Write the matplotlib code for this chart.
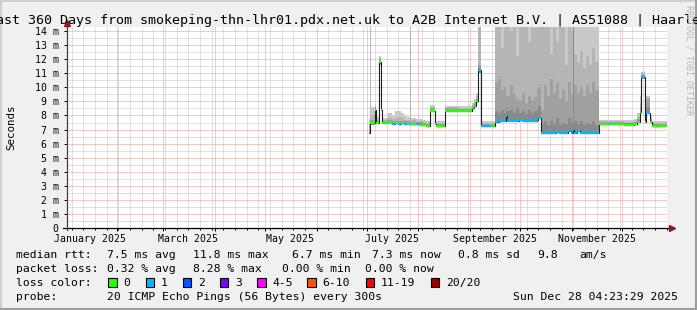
import numpy as np
import matplotlib
matplotlib.use("Agg")
import matplotlib.pyplot as plt
import matplotlib.dates as mdates
import matplotlib.transforms as mtransforms
from matplotlib.patches import Rectangle
from matplotlib.lines import Line2D
from datetime import datetime, timedelta

W, H = 697, 310
plt.rcParams['font.family'] = ['DejaVu Sans Mono', 'DejaVu Sans']

# ---------------- data ----------------
graph_start = datetime(2025, 1, 2, 4, 23, 29)
graph_end = datetime(2025, 12, 28, 4, 23, 29)
data_end_day = 360.0

# day offsets (from graph_start) at which each RRD sample begins
sample_day = [181.2, 181.8, 182.4, 184.5, 185.4, 187.3, 188.2, 189.0, 192.0, 195.0,
              196.8, 198.6, 200.4, 202.2, 204.0, 205.8, 206.4, 209.4, 211.2, 213.6,
              215.4, 217.8, 220.8, 221.4, 226.8, 235.0, 243.0, 244.2, 245.4, 246.8,
              248.1, 252.0, 254.4,
              256.8, 258.6, 260.4, 262.2, 263.4, 264.0, 265.8, 267.6, 269.4, 271.2,
              273.0, 274.8, 276.6, 278.4, 280.2, 282.0, 282.6, 284.4, 286.2, 288.0,
              289.8, 291.6, 293.4, 295.2, 297.0, 298.8, 300.6, 302.4, 303.6, 304.2,
              306.0, 307.8, 309.6, 311.4, 313.2, 315.0, 316.8,
              319.2, 325.8, 326.6, 334.0, 340.0, 342.0, 343.8, 344.6, 346.8, 347.6,
              349.8, 351.0, 354.0, 354.6]

median_ms = [6.77, 7.45, 7.45, 8.40, 7.48, 11.80, 8.40, 7.48, 7.48, 7.42,
             7.45, 7.40, 7.45, 7.42, 7.42, 7.40, 7.38, 7.38, 7.35, 7.30,
             7.25, 8.34, 7.40, 7.25, 8.34, 8.30, 8.50, 8.70, 9.00, 11.20,
             7.25, 7.27, 7.27,
             7.56, 7.58, 7.60, 7.60, 7.95, 7.65, 7.62, 7.62, 7.62, 7.66,
             7.65, 7.63, 7.63, 7.63, 7.63, 7.68, 7.85, 6.75, 6.73, 6.73,
             6.75, 6.73, 6.85, 6.73, 6.73, 6.73, 6.90, 6.75, 6.95, 6.78,
             6.90, 6.75, 6.73, 6.73, 6.73, 6.73, 6.73,
             7.37, 7.37, 7.37, 7.35, 7.38, 7.55, 8.27, 10.75, 7.55, 8.20,
             7.55, 7.27, 7.27, 7.27]

loss_pings = [1, 0, 0, 0, 0, 0, 0, 0, 0, 1,
              0, 1, 0, 1, 0, 1, 0, 1, 0, 0,
              0, 0, 0, 0, 0, 0, 0, 0, 0, 1,
              1, 1, 0,
              1, 1, 1, 1, 1, 1, 1, 1, 1, 1,
              1, 1, 1, 1, 1, 1, 1, 1, 1, 1,
              1, 1, 1, 1, 1, 1, 1, 1, 1, 1,
              1, 1, 1, 1, 1, 1, 1,
              0, 1, 0, 0, 0, 0, 0, 1, 0, 1,
              0, 0, 1, 0]

# smoke: min ping and successive ping quantile envelopes (inner -> outer)
smoke_min = [6.70, 7.35, 7.35, 8.25, 7.40, 11.60, 8.30, 7.40, 7.40, 7.34,
             7.37, 7.32, 7.37, 7.34, 7.34, 7.32, 7.30, 7.30, 7.27, 7.22,
             7.17, 8.26, 7.32, 7.17, 8.26, 8.22, 8.42, 8.60, 8.90, 11.00,
             7.17, 7.19, 7.19,
             7.48, 7.50, 7.52, 7.52, 7.87, 7.57, 7.54, 7.54, 7.54, 7.58,
             7.57, 7.55, 7.55, 7.55, 7.55, 7.60, 7.77, 6.67, 6.65, 6.65,
             6.67, 6.65, 6.77, 6.65, 6.65, 6.65, 6.82, 6.67, 6.87, 6.70,
             6.82, 6.67, 6.65, 6.65, 6.65, 6.65, 6.65,
             7.30, 7.30, 7.30, 7.28, 7.30, 7.47, 8.19, 10.60, 7.47, 8.12,
             7.47, 7.20, 7.20, 7.20]

smoke_q1 = [6.85, 7.55, 7.55, 8.50, 7.55, 11.90, 8.50, 7.55, 7.55, 7.50,
            7.52, 7.50, 7.52, 7.50, 7.50, 7.50, 7.46, 7.46, 7.43, 7.38,
            7.33, 8.42, 7.48, 7.33, 8.42, 8.38, 8.58, 8.80, 9.10, 11.40,
            7.33, 7.35, 7.35,
            8.30, 8.20, 8.40, 8.20, 8.60, 8.30, 8.40, 8.20, 8.50, 8.20,
            8.30, 8.10, 8.40, 8.20, 8.30, 8.40, 8.70, 7.40, 7.60, 7.30,
            7.60, 7.40, 7.80, 7.30, 7.50, 7.40, 7.80, 7.50, 15.0, 7.60,
            7.40, 7.60, 7.30, 7.50, 7.40, 7.60, 7.30,
            7.45, 7.45, 7.45, 7.43, 7.46, 7.65, 8.40, 10.85, 7.65, 8.60,
            7.65, 7.35, 7.35, 7.35]

smoke_q2 = [7.00, 7.70, 7.70, 8.60, 7.60, 12.00, 8.60, 7.60, 7.65, 7.60,
            7.62, 7.60, 7.62, 7.60, 7.58, 7.60, 7.55, 7.55, 7.52, 7.46,
            7.40, 8.50, 7.55, 7.40, 8.50, 8.46, 8.66, 8.90, 9.20, 11.60,
            7.40, 7.42, 7.42,
            10.4, 10.6, 9.80, 10.0, 9.60, 9.40, 10.2, 9.50, 9.20, 9.00,
            9.60, 8.90, 9.40, 9.10, 9.30, 9.80, 10.0, 8.40, 10.2, 9.40,
            10.6, 9.60, 10.3, 9.20, 9.80, 9.00, 10.4, 9.50, 15.0, 10.2,
            9.60, 10.0, 9.40, 10.2, 9.60, 10.4, 9.80,
            7.52, 7.52, 7.52, 7.50, 7.53, 7.75, 8.60, 10.90, 7.80, 9.20,
            7.75, 7.42, 7.42, 7.42]

smoke_q3 = [7.40, 15.0, 8.00, 8.70, 7.70, 12.10, 8.70, 7.70, 7.80, 7.75,
            7.80, 7.90, 7.80, 7.70, 7.70, 15.0, 7.65, 7.62, 7.60, 7.55,
            7.48, 8.60, 7.62, 7.48, 8.58, 8.55, 8.75, 9.00, 9.40, 15.0,
            7.48, 7.50, 7.50,
            15.0, 15.0, 12.8, 15.0, 15.0, 15.0, 14.0, 15.0, 12.2, 15.0,
            15.0, 15.0, 13.2, 15.0, 14.2, 15.0, 15.0, 15.0, 15.0, 15.0,
            12.4, 15.0, 13.2, 15.0, 15.0, 11.6, 15.0, 14.0, 15.0, 12.4,
            11.8, 12.6, 11.4, 12.2, 11.6, 12.8, 11.8,
            7.58, 7.58, 7.58, 7.56, 7.60, 7.90, 8.90, 11.00, 8.20, 9.25,
            7.85, 7.50, 7.50, 7.50]

smoke_max = [7.80, 15.0, 8.60, 8.80, 7.90, 12.20, 8.80, 7.85, 8.20, 8.00,
             8.30, 8.35, 8.20, 7.95, 7.90, 15.0, 7.80, 7.75, 7.75, 7.70,
             7.60, 8.75, 7.75, 7.60, 8.70, 8.65, 8.90, 9.20, 9.60, 15.0,
             7.60, 7.62, 7.62,
             15.0, 15.0, 15.0, 15.0, 15.0, 15.0, 15.0, 15.0, 15.0, 15.0,
             15.0, 15.0, 15.0, 15.0, 15.0, 15.0, 15.0, 15.0, 15.0, 15.0,
             15.0, 15.0, 15.0, 15.0, 15.0, 15.0, 15.0, 15.0, 15.0, 15.0,
             15.0, 15.0, 15.0, 15.0, 15.0, 15.0, 15.0,
             7.68, 7.68, 7.68, 7.66, 7.72, 8.20, 9.40, 11.10, 8.90, 9.40,
             8.00, 7.60, 7.60, 7.60]

loss_levels = [0, 1, 2, 3, 5, 10, 19, 20]
loss_labels = ['0', '1', '2', '3', '4-5', '6-10', '11-19', '20/20']
loss_colors = ['#26ff00', '#00b8ff', '#0059ff', '#7e00ff', '#ff00ff', '#ff5500', '#ff0000', '#a10000']

smoke_colors = ['#c9c9c9', '#b5b5b5', '#a0a0a0', '#8a8a8a']

y_ticks = list(range(0, 15))
title = "Last 360 Days from smokeping-thn-lhr01.pdx.net.uk to A2B Internet B.V. | AS51088 | Haarlem"

legend_rtt = [("median rtt:", 16), ("7.5 ms avg", 107), ("11.8 ms max", 193.5),
              ("6.7 ms min", 291.5), ("7.3 ms now", 372.3), ("0.8 ms sd", 458.3),
              ("9.8", 537.3), ("am/s", 579.3)]
legend_loss = [("packet loss:", 16), ("0.32 % avg", 107), ("8.28 % max", 193.3),
               ("0.00 % min", 281.7), ("0.00 % now", 365)]
probe_text = "20 ICMP Echo Pings (56 Bytes) every 300s"
stamp_text = "Sun Dec 28 04:23:29 2025"

# ---------------- figure ----------------
def fx(px):
    return px / W

def fy(py):
    return 1 - py / H

fig = plt.figure(figsize=(W / 100, H / 100), dpi=100, facecolor='#f0f0f0')

# 3D-ish border
fig.add_artist(Line2D([0, 1], [fy(1), fy(1)], transform=fig.transFigure, color='#cfcfcf', lw=1.5))
fig.add_artist(Line2D([fx(1), fx(1)], [0, 1], transform=fig.transFigure, color='#cfcfcf', lw=1.5))
fig.add_artist(Line2D([0, 1], [fy(308.5), fy(308.5)], transform=fig.transFigure, color='#9e9e9e', lw=2.2))
fig.add_artist(Line2D([fx(695.5), fx(695.5)], [0, 1], transform=fig.transFigure, color='#9e9e9e', lw=2.2))

ax = fig.add_axes([fx(67), fy(228), 600 / W, 201 / H])
ax.set_facecolor('white')

starts = [graph_start + timedelta(days=d) for d in sample_day]
edges = starts + [graph_start + timedelta(days=data_end_day)]

def stepped(vals):
    return list(vals) + [vals[-1]]

layers = [smoke_max, smoke_q3, smoke_q2, smoke_q1]
for vals, col in zip(layers, smoke_colors):
    ax.fill_between(edges, stepped(smoke_min), stepped(vals), step='post',
                    facecolor=col, edgecolor='none', linewidth=0, zorder=2)

# dark median line underneath
ax.step(edges, stepped(median_ms), where='post', color='#202020', lw=0.8, zorder=3)

# loss-coloured median segments
seg_cols = []
for lp in loss_pings:
    chosen = loss_colors[-1]
    for lvl, col in zip(loss_levels, loss_colors):
        if lp <= lvl:
            chosen = col
            break
    seg_cols.append(chosen)
ax.hlines(median_ms, starts, edges[1:], colors=seg_cols, lw=1.6, zorder=4)

# axes limits / grid
ax.set_xlim(graph_start, graph_end)
ax.set_ylim(0, 14.29)
ax.xaxis.set_major_locator(mdates.MonthLocator())
ax.xaxis.set_minor_locator(mdates.WeekdayLocator(byweekday=mdates.SU))
ax.xaxis.set_major_formatter(plt.NullFormatter())
ax.set_yticks(y_ticks)
ax.set_yticks(np.arange(0.5, 14.3, 1.0), minor=True)
ax.set_yticklabels([("%d m" % v) if v else "0" for v in y_ticks], fontsize=7.1)
ax.tick_params(axis='y', which='major', length=2, width=0.7, pad=4, colors='black')
ax.tick_params(axis='y', which='minor', length=0)
ax.tick_params(axis='x', which='major', length=2.5, width=0.7, colors='black')
ax.tick_params(axis='x', which='minor', length=1.2, width=0.7, colors='black')

ax.grid(which='minor', color='#c2c2c2', linestyle=(0, (1, 1)), linewidth=0.72, zorder=0)
ax.grid(which='major', color='#f09494', linestyle=(0, (1, 1)), linewidth=0.72, zorder=1)
ax.set_axisbelow(True)

for side in ['top', 'right', 'left', 'bottom']:
    ax.spines[side].set_visible(False)

# axis lines with arrows
ax.add_artist(Line2D([-4 / 600, 1 + 4 / 600], [0, 0], transform=ax.transAxes, color='black',
                     lw=0.9, clip_on=False, zorder=6))
ax.add_artist(Line2D([0, 0], [-2 / 201, 1 + 2 / 201], transform=ax.transAxes, color='#404040',
                     lw=0.9, clip_on=False, zorder=6))
ax.plot([1 + 5 / 600], [0], marker='>', color='#8b1a1a', markersize=4.5, transform=ax.transAxes,
        clip_on=False, zorder=7)
ax.plot([0], [1 + 4 / 201], marker='^', color='#8b1a1a', markersize=4.5, transform=ax.transAxes,
        clip_on=False, zorder=7)

# month labels (centred mid-month, every second month)
lab_tr = mtransforms.blended_transform_factory(ax.transData, fig.transFigure)
for m in [1, 3, 5, 7, 9, 11]:
    d = datetime(2025, m, 16)
    ax.text(mdates.date2num(d), fy(241.5), d.strftime('%B %Y'), transform=lab_tr,
            ha='center', va='baseline', fontsize=7.1, color='black')

# titles and labels
fig.text(0.5, fy(24), title, ha='center', va='baseline', fontsize=9.6, color='black')
fig.text(fx(11), fy(127.5), "Seconds", rotation=90, ha='center', va='center', fontsize=7.8,
         color='black')
fig.text(fx(688.5), fy(5), "RRDTOOL / TOBI OETIKER", rotation=270, ha='center', va='top',
         fontsize=6.0, color='#b4b4b4')

LEG_FS = 8.2
for txt, px in legend_rtt:
    fig.text(fx(px), fy(258.3), txt, ha='left', va='baseline', fontsize=LEG_FS)
for txt, px in legend_loss:
    fig.text(fx(px), fy(272.5), txt, ha='left', va='baseline', fontsize=LEG_FS)
fig.text(fx(16), fy(286.3), "loss color:", ha='left', va='baseline', fontsize=LEG_FS)
box_px = [108, 145.7, 182.7, 220, 257, 307, 365.7, 430.7]
for bx, lab, col in zip(box_px, loss_labels, loss_colors):
    fig.patches.append(Rectangle((fx(bx), fy(286.5)), 8.5 / W, 9 / H, transform=fig.transFigure,
                                 facecolor=col, edgecolor='black', lw=0.8))
    fig.text(fx(bx + 15.3), fy(286.3), lab, ha='left', va='baseline', fontsize=LEG_FS)
fig.text(fx(16), fy(300.3), "probe:", ha='left', va='baseline', fontsize=LEG_FS)
fig.text(fx(107), fy(300.3), probe_text, ha='left', va='baseline', fontsize=LEG_FS)
fig.text(fx(513), fy(300.3), stamp_text, ha='left', va='baseline', fontsize=LEG_FS)

fig.savefig('out.png', dpi=100, facecolor=fig.get_facecolor())
